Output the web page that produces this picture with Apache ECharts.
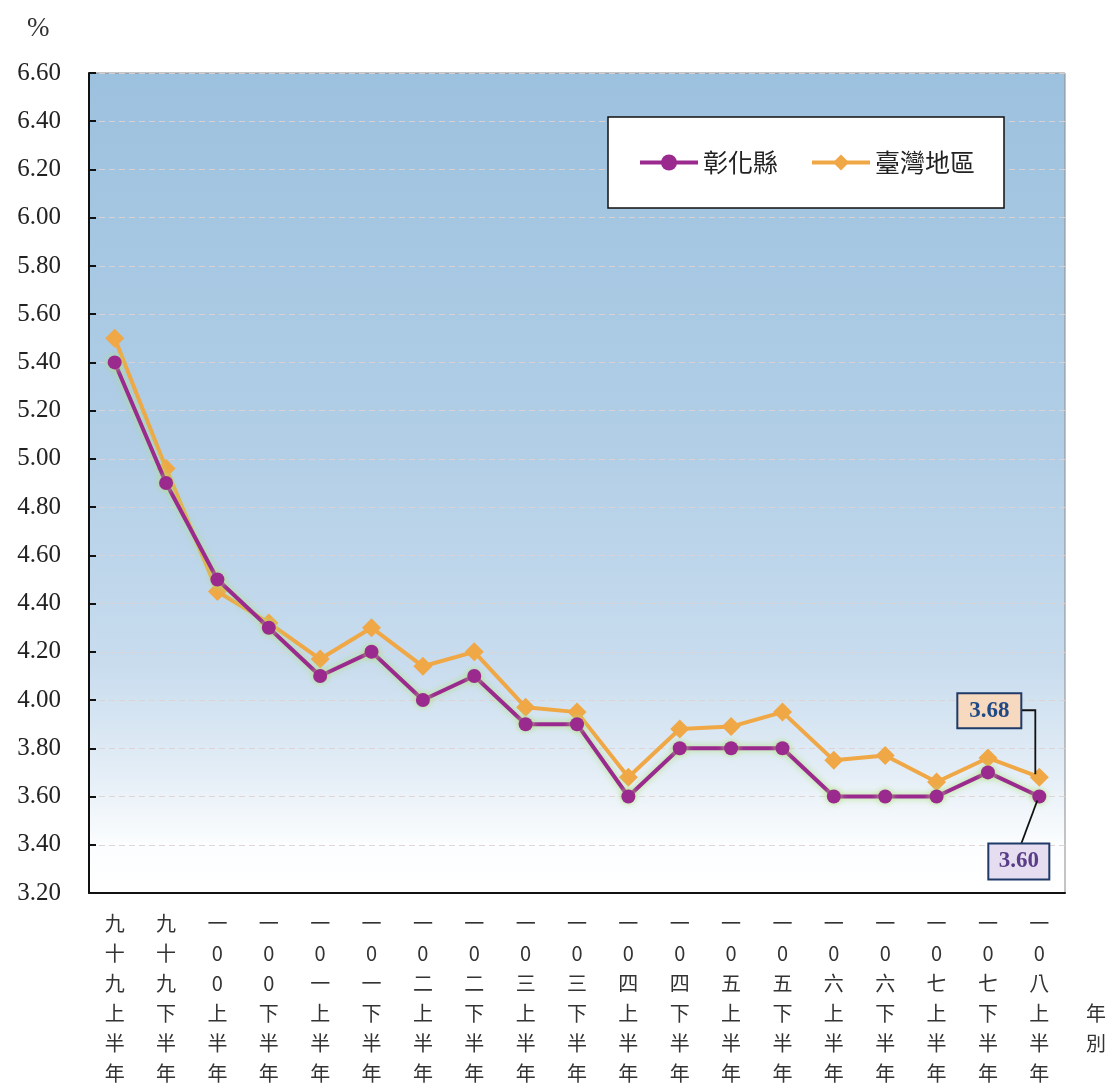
<!DOCTYPE html>
<html>
<head>
<meta charset="utf-8">
<script src="https://cdn.jsdelivr.net/npm/echarts@6/dist/echarts.min.js"></script>
<style>
html,body{margin:0;padding:0;background:#fff;}
#chart{width:1112px;height:1087px;}
</style>
</head>
<body>
<div id="chart"></div>
<script>
const categories = ["九十九上半年","九十九下半年","一00上半年","一00下半年","一0一上半年","一0一下半年","一0二上半年","一0二下半年","一0三上半年","一0三下半年","一0四上半年","一0四下半年","一0五上半年","一0五下半年","一0六上半年","一0六下半年","一0七上半年","一0七下半年","一0八上半年"];
const changhua = [5.40,4.90,4.50,4.30,4.10,4.20,4.00,4.10,3.90,3.90,3.60,3.80,3.80,3.80,3.60,3.60,3.60,3.70,3.60];
const taiwan = [5.50,4.96,4.45,4.32,4.17,4.30,4.14,4.20,3.97,3.95,3.68,3.88,3.89,3.95,3.75,3.77,3.66,3.76,3.68];
const seriesNames = ["彰化縣","臺灣地區"];
const yMin = 3.2, yMax = 6.6, yStep = 0.2;

const chart = echarts.init(document.getElementById('chart'));
const serif = "'Liberation Serif','Times New Roman',serif";
const cjk = "'Noto Sans CJK TC','Noto Sans CJK SC',sans-serif";

const option = {
  backgroundColor: '#ffffff',
  animation: false,
  grid: {
    left: 89, right: 47, top: 73, bottom: 194,
    outerBoundsMode: 'none',
    containLabel: false,
    show: true,
    borderColor: '#8a8a8a',
    borderWidth: 1,
    backgroundColor: {
      type: 'linear', x: 0, y: 0, x2: 0, y2: 1,
      colorStops: [
        {offset: 0, color: '#9cc1de'},
        {offset: 0.45, color: '#b1cee6'},
        {offset: 0.72, color: '#c8dcee'},
        {offset: 0.85, color: '#e3edf6'},
        {offset: 0.94, color: '#fbfdfe'},
        {offset: 1, color: '#ffffff'}
      ]
    }
  },
  legend: {
    left: 608, top: 117,
    orient: 'horizontal',
    backgroundColor: '#ffffff',
    borderColor: '#111',
    borderWidth: 1.5,
    padding: [33, 29, 33, 30],
    itemGap: 32,
    itemWidth: 58,
    itemHeight: 20,
    lineStyle: {width: 4},
    textStyle: {fontFamily: cjk, fontSize: 25, color: '#222'},
    data: seriesNames
  },
  xAxis: {
    type: 'category',
    data: categories,
    boundaryGap: true,
    axisLine: {lineStyle: {color: '#111', width: 2}},
    axisTick: {show: false},
    axisLabel: {
      interval: 0,
      margin: 15,
      fontFamily: cjk,
      fontSize: 20,
      lineHeight: 30,
      color: '#333',
      formatter: v => v.split('').join('\n')
    }
  },
  yAxis: {
    type: 'value',
    min: yMin, max: yMax, interval: yStep,
    axisLine: {show: true, lineStyle: {color: '#111', width: 2}},
    axisTick: {show: true, inside: true, length: 7, lineStyle: {color: '#111', width: 2}},
    axisLabel: {
      fontFamily: serif, fontSize: 25, color: '#222', margin: 28,
      formatter: v => v.toFixed(2)
    },
    splitLine: {show: true, lineStyle: {color: 'rgba(222,210,210,0.9)', type: [6, 4], width: 1.2}}
  },
  series: [
    {
      name: seriesNames[0],
      type: 'line',
      data: changhua,
      z: 3,
      symbol: 'circle',
      symbolSize: 14,
      lineStyle: {color: '#9a2a8e', width: 4, shadowColor: 'rgba(175,225,120,0.95)', shadowBlur: 6},
      itemStyle: {color: '#9a2a8e', shadowColor: 'rgba(175,225,120,0.95)', shadowBlur: 6}
    },
    {
      name: seriesNames[1],
      type: 'line',
      data: taiwan,
      z: 2,
      symbol: 'diamond',
      symbolSize: 19,
      lineStyle: {color: '#f0a745', width: 4},
      itemStyle: {color: '#f0a745'}
    }
  ]
};
chart.setOption(option);

function buildGraphics() {
  const last = categories.length - 1;
  const p = chart.convertToPixel({seriesIndex: 1}, [last, taiwan[last]]);
  const q = chart.convertToPixel({seriesIndex: 0}, [last, changhua[last]]);
  const els = [];
  els.push({type: 'text', left: 27, top: 15, style: {text: '%', font: '27px ' + serif, fill: '#333'}});
  els.push({type: 'text', left: 1086, top: 998, style: {text: '年\n別', font: '20px ' + cjk, lineHeight: 30, fill: '#333'}});
  // callout for Taiwan value
  els.push({type: 'polyline', z: 10, shape: {points: [[p[0]-18, p[1]-67], [p[0]-4, p[1]-67], [p[0]-4, p[1]-3]]}, style: {stroke: '#111', lineWidth: 1.8, fill: null}});
  els.push({type: 'rect', z: 11, shape: {x: p[0]-82, y: p[1]-84, width: 64, height: 35}, style: {fill: '#f7d9bf', stroke: '#1f3a68', lineWidth: 2}});
  els.push({type: 'text', z: 12, x: p[0]-50, y: p[1]-66.5, style: {text: taiwan[last].toFixed(2), font: 'bold 23px ' + serif, fill: '#1f4a86', align: 'center', verticalAlign: 'middle'}});
  // callout for Changhua value
  els.push({type: 'polyline', z: 10, shape: {points: [[q[0]-18, q[1]+47], [q[0]-2, q[1]+4]]}, style: {stroke: '#111', lineWidth: 1.8, fill: null}});
  els.push({type: 'rect', z: 11, shape: {x: q[0]-51, y: q[1]+47, width: 61, height: 36}, style: {fill: '#e6def0', stroke: '#1f3a68', lineWidth: 2}});
  els.push({type: 'text', z: 12, x: q[0]-20.5, y: q[1]+65, style: {text: changhua[last].toFixed(2), font: 'bold 23px ' + serif, fill: '#5a3c88', align: 'center', verticalAlign: 'middle'}});
  chart.setOption({graphic: els});
}
buildGraphics();
</script>
</body>
</html>
